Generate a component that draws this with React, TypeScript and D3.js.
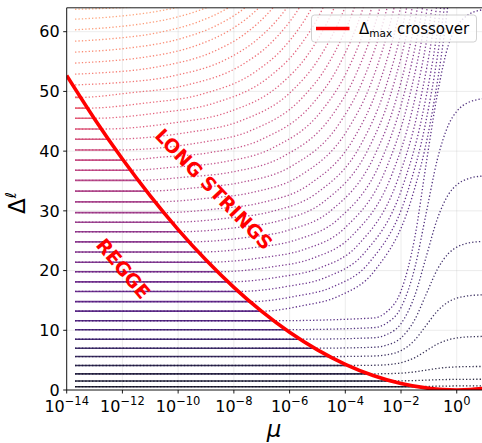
import React, { useEffect, useRef } from "react";
import * as d3 from "d3";

// Regge levels (Delta) read at the left edge, lowest first
const reggeLevels = [
  0.55, 1.5, 2.7, 4.1, 5.6, 7.0, 8.5, 10.1, 11.6, 13.2, 14.8, 16.5, 18.1, 19.8,
  21.4, 23.1, 24.8, 26.5, 28.1, 29.7, 31.5, 33.3, 35.1, 36.8, 38.5, 40.2, 42.0,
  43.7, 45.5, 47.2, 49.0, 50.75, 52.5, 54.3, 56.1, 57.9, 59.8, 61.6, 63.5,
];

// first mu (log10) of the Regge lines
const reggeStartLogMu = -13.7;

// long-string tracks, [log10 mu, Delta], one per level, starting at the crossover
const longStringTracks: [number, number][][] = [
  [[-1.43, 0.55], [-1.1, 0.6], [-0.3, 0.66], [0, 0.68], [0.95, 0.7]],
  [[-2.36, 1.5], [-2, 1.53], [-1.5, 1.58], [-1.1, 1.65], [-0.7, 1.72], [-0.3, 1.76], [0, 1.78], [0.95, 1.8]],
  [[-3.17, 2.7], [-2.5, 2.74], [-2, 2.82], [-1.5, 3.04], [-1.1, 3.33], [-0.7, 3.61], [-0.3, 3.8], [0, 3.87], [0.4, 3.92], [0.95, 3.94]],
  [[-3.91, 4.1], [-3, 4.14], [-2.5, 4.24], [-2, 4.57], [-1.5, 5.42], [-1.1, 6.55], [-0.7, 7.68], [-0.3, 8.42], [0, 8.71], [0.4, 8.89], [0.95, 8.97]],
  [[-4.57, 5.6], [-3, 5.69], [-2.5, 5.9], [-2, 6.59], [-1.5, 8.4], [-1.1, 10.8], [-0.7, 13.2], [-0.3, 14.76], [0, 15.38], [0.4, 15.76], [0.95, 15.94]],
  [[-5.1, 7.0], [-3, 7.15], [-2.5, 7.53], [-2, 8.72], [-1.5, 11.84], [-1.1, 16.0], [-0.7, 20.16], [-0.3, 22.85], [0, 23.92], [0.4, 24.59], [0.95, 24.89]],
  [[-5.63, 8.5], [-3, 8.74], [-2.5, 9.31], [-2, 11.12], [-1.5, 15.89], [-1.1, 22.25], [-0.7, 28.61], [-0.3, 32.72], [0, 34.35], [0.4, 35.37], [0.95, 35.84]],
  [[-6.13, 10.1], [-3, 10.43], [-2.5, 11.24], [-2, 13.81], [-1.5, 20.56], [-1.1, 29.55], [-0.7, 38.54], [-0.3, 44.36], [0, 46.66], [0.4, 48.11], [0.95, 48.77]],
  [[-6.58, 11.6], [-3, 12.05], [-2.5, 13.14], [-2, 16.59], [-1.5, 25.69], [-1.1, 37.8], [-0.7, 49.4], [-0.3, 57.75], [0, 60.85], [0.4, 62.79], [0.95, 63.69]],
  [[-7.01, 13.2], [-5.53, 14.13], [-4.23, 15.73], [-2.93, 20.07], [-1.63, 31.89], [-0.98, 44.01], [-0.33, 64], [-0.07, 75.3]],
  [[-7.42, 14.8], [-5.79, 15.7], [-4.46, 17.25], [-3.12, 21.46], [-1.785, 32.9], [-1.12, 44.64], [-0.45, 64], [-0.18, 74.9]],
  [[-7.84, 16.5], [-6.06, 17.37], [-4.69, 18.87], [-3.32, 22.93], [-1.95, 33.98], [-1.265, 45.31], [-0.58, 64], [-0.31, 74.5]],
  [[-8.21, 18.1], [-6.35, 18.94], [-4.945, 20.39], [-3.54, 24.31], [-2.135, 34.99], [-1.43, 45.94], [-0.73, 64], [-0.45, 74.2]],
  [[-8.59, 19.8], [-6.65, 20.61], [-5.21, 22.0], [-3.77, 25.78], [-2.33, 36.06], [-1.61, 46.61], [-0.89, 64], [-0.6, 73.8]],
  [[-8.93, 21.4], [-6.96, 22.18], [-5.485, 23.52], [-4.01, 27.16], [-2.535, 37.07], [-1.8, 47.24], [-1.06, 64], [-0.765, 73.4]],
  [[-9.27, 23.1], [-7.27, 23.85], [-5.76, 25.14], [-4.25, 28.63], [-2.74, 38.15], [-1.985, 47.91], [-1.23, 64], [-0.93, 73.1]],
  [[-9.61, 24.8], [-7.59, 25.52], [-6.045, 26.75], [-4.5, 30.1], [-2.955, 39.22], [-2.18, 48.57], [-1.41, 64], [-1.1, 72.7]],
  [[-9.93, 26.5], [-7.92, 27.19], [-6.34, 28.37], [-4.76, 31.57], [-3.18, 40.3], [-2.39, 49.24], [-1.6, 64], [-1.28, 72.3]],
  [[-10.23, 28.1], [-8.26, 28.76], [-6.645, 29.89], [-5.03, 32.96], [-3.415, 41.31], [-2.61, 49.87], [-1.8, 64], [-1.48, 72.0]],
  [[-10.52, 29.7], [-8.62, 30.33], [-6.97, 31.41], [-5.32, 34.34], [-3.67, 42.32], [-2.845, 50.5], [-2.02, 64], [-1.69, 71.6]],
  [[-10.83, 31.5], [-8.99, 32.09], [-7.305, 33.12], [-5.62, 35.9], [-3.935, 43.46], [-3.09, 51.21], [-2.25, 64], [-1.91, 71.2]],
  [[-11.13, 33.3], [-9.38, 33.86], [-7.66, 34.83], [-5.94, 37.45], [-4.22, 44.59], [-3.36, 51.92], [-2.5, 64], [-2.16, 70.8]],
  [[-11.43, 35.1], [-9.78, 35.63], [-8.025, 36.54], [-6.27, 39.01], [-4.515, 45.73], [-3.64, 52.63], [-2.76, 64], [-2.41, 70.4]],
  [[-11.71, 36.8], [-10.21, 37.3], [-8.42, 38.15], [-6.63, 40.48], [-4.84, 46.81], [-3.945, 53.3], [-3.05, 64], [-2.69, 70.0]],
  [[-11.97, 38.5], [-10.66, 38.97], [-8.835, 39.77], [-7.01, 41.95], [-5.185, 47.88], [-4.27, 53.97], [-3.36, 64], [-3.0, 69.65]],
  [[-12.23, 40.2], [-9.26, 41.39], [-7.4, 43.42], [-5.54, 48.96], [-4.61, 54.63], [-3.68, 64], [-3.31, 69.3]],
  [[-12.5, 42.0], [-9.705, 43.1], [-7.81, 44.98], [-5.915, 50.09], [-4.97, 55.34], [-4.02, 64], [-3.64, 68.9]],
  [[-12.76, 43.7], [-10.19, 44.71], [-8.26, 46.45], [-6.33, 51.17], [-5.365, 56.01], [-4.4, 64], [-4.01, 68.5]],
  [[-13.02, 45.5], [-10.695, 46.42], [-8.73, 48.0], [-6.765, 52.31], [-5.78, 56.72], [-4.8, 64], [-4.41, 68.1]],
  [[-13.26, 47.2], [-11.2, 48.04], [-9.2, 49.47], [-7.2, 53.38], [-6.2, 57.39], [-5.2, 64], [-4.8, 67.7]],
  [[-13.51, 49.0], [-11.755, 49.75], [-9.72, 51.03], [-7.685, 54.52], [-6.67, 58.1], [-5.65, 64], [-5.24, 67.3]],
  [[-13.7, 51.09], [-12.31, 51.41], [-10.24, 52.54], [-8.17, 55.62], [-7.135, 58.79], [-6.1, 64], [-5.69, 66.9]],
  [[-13.7, 52.89], [-12.915, 53.07], [-10.81, 54.06], [-8.705, 56.73], [-7.65, 59.47], [-6.6, 64], [-6.18, 66.55]],
  [[-13.7, 54.75], [-12.45, 55.1], [-11.38, 55.61], [-9.24, 57.87], [-8.17, 60.18], [-7.1, 64], [-6.67, 66.15]],
  [[-13.7, 56.58], [-11.95, 57.17], [-9.775, 59.01], [-8.69, 60.89], [-7.6, 64], [-7.165, 65.75]],
  [[-13.7, 58.41], [-12.62, 58.73], [-10.41, 60.14], [-9.305, 61.6], [-8.2, 64], [-7.76, 65.35]],
  [[-13.7, 60.32], [-12.37, 60.74], [-11.245, 61.35], [-10.12, 62.35], [-9.0, 64], [-8.55, 64.93]],
  [[-13.7, 62.09], [-12.38, 62.48], [-11.24, 63.06], [-10.1, 64], [-9.64, 64.53]],
  [[-13.7, 63.75], [-13.26, 63.8], [-12.1, 64], [-11.64, 64.11]],
];

// Delta_max crossover curve
const crossoverLogMu = [-14, -13, -12, -11, -10, -9, -8, -7, -6, -5, -4, -3, -2, -1, -0.5, 0, 0.5, 1];
const crossoverDelta = [52.65, 45.39, 38.68, 32.5, 26.86, 21.76, 17.19, 13.16, 9.67, 6.72, 4.3, 2.42, 1.07, 0.27, 0.067, 0, 0.067, 0.27];

const xTickExponents = [-14, -12, -10, -8, -6, -4, -2, 0];
const yTicks = [0, 10, 20, 30, 40, 50, 60];

const FONT = "DejaVu Sans, sans-serif";

export default function App() {
  const svgRef = useRef<SVGSVGElement | null>(null);

  useEffect(() => {
    if (!svgRef.current) return;
    const svg = d3.select(svgRef.current);
    svg.selectAll("*").remove();

    const left = 66.7;
    const top = 7.8;
    const bottom = 390;
    const decade = 27.86;
    const x = d3.scaleLog().domain([1e-14, 1e1]).range([left, left + 15 * decade]);
    const y = d3.scaleLinear().domain([0, 64]).range([bottom, top]);
    const right = x(1e1);

    const color = (k: number) => d3.interpolateMagma(0.05 + (0.75 * k) / (reggeLevels.length - 1));

    svg
      .append("defs")
      .append("clipPath")
      .attr("id", "plot-clip")
      .append("rect")
      .attr("x", left)
      .attr("y", top)
      .attr("width", right - left)
      .attr("height", bottom - top);

    // grid
    const grid = svg.append("g");
    grid
      .selectAll(".gx")
      .data(xTickExponents)
      .enter()
      .append("line")
      .attr("x1", (d) => x(10 ** d))
      .attr("x2", (d) => x(10 ** d))
      .attr("y1", top)
      .attr("y2", bottom)
      .attr("stroke", "#b0b0b0")
      .attr("stroke-opacity", 0.3)
      .attr("stroke-width", 0.8);
    grid
      .selectAll(".gy")
      .data(yTicks)
      .enter()
      .append("line")
      .attr("x1", left)
      .attr("x2", right)
      .attr("y1", (d) => y(d))
      .attr("y2", (d) => y(d))
      .attr("stroke", "#b0b0b0")
      .attr("stroke-opacity", 0.3)
      .attr("stroke-width", 0.8);

    const plot = svg.append("g").attr("clip-path", "url(#plot-clip)");

    const line = d3
      .line<[number, number]>()
      .x((d) => x(10 ** d[0]))
      .y((d) => y(d[1]))
      .curve(d3.curveMonotoneX);

    // solid Regge part
    reggeLevels.forEach((level, k) => {
      const start = longStringTracks[k][0][0];
      if (start <= reggeStartLogMu) return;
      plot
        .append("path")
        .attr("d", line([[reggeStartLogMu, level], [start, level]]))
        .attr("fill", "none")
        .attr("stroke", color(k))
        .attr("stroke-width", 1.6)
        .attr("stroke-opacity", 0.85);
    });

    // dotted full tracks
    reggeLevels.forEach((level, k) => {
      const track = longStringTracks[k];
      const pts: [number, number][] =
        track[0][0] > reggeStartLogMu ? [[reggeStartLogMu, level], ...track] : track;
      plot
        .append("path")
        .attr("d", line(pts))
        .attr("fill", "none")
        .attr("stroke", color(k))
        .attr("stroke-width", 1.3)
        .attr("stroke-dasharray", "1.3 2.1")
        .attr("stroke-opacity", 0.85);
    });

    // crossover curve
    const crossover = crossoverLogMu.map((m, i) => [m, crossoverDelta[i]] as [number, number]);
    plot
      .append("path")
      .attr("d", line(crossover))
      .attr("fill", "none")
      .attr("stroke", "#ff0000")
      .attr("stroke-width", 3.6);

    // region labels
    const label = (text: string, cx: number, cy: number, angle: number) =>
      svg
        .append("text")
        .attr("transform", `translate(${cx},${cy}) rotate(${angle})`)
        .attr("text-anchor", "middle")
        .attr("dominant-baseline", "central")
        .attr("font-family", FONT)
        .attr("font-weight", "bold")
        .attr("font-size", 19)
        .attr("fill", "#ff0000")
        .text(text);
    label("LONG STRINGS", 214, 189, 46);
    label("REGGE", 123.5, 268.5, 50);

    // spines
    const axes = svg.append("g").attr("stroke", "#000").attr("stroke-width", 0.9);
    axes.append("line").attr("x1", left).attr("x2", left).attr("y1", top).attr("y2", bottom);
    axes.append("line").attr("x1", left).attr("x2", right).attr("y1", bottom).attr("y2", bottom);
    axes.append("line").attr("x1", left).attr("x2", right).attr("y1", top).attr("y2", top);
    axes.append("line").attr("x1", right).attr("x2", right).attr("y1", top).attr("y2", bottom);

    // x ticks
    xTickExponents.forEach((e) => {
      const px = x(10 ** e);
      axes.append("line").attr("x1", px).attr("x2", px).attr("y1", bottom).attr("y2", bottom + 3.5);
      const t = svg
        .append("text")
        .attr("x", px)
        .attr("y", 412)
        .attr("text-anchor", "middle")
        .attr("font-family", FONT)
        .attr("font-size", 16)
        .attr("fill", "#000");
      t.append("tspan").text("10");
      t.append("tspan")
        .attr("dy", -7)
        .attr("font-size", 11.5)
        .text(e < 0 ? `\u2212${-e}` : `${e}`);
    });

    // y ticks
    yTicks.forEach((v) => {
      const py = y(v);
      axes.append("line").attr("x1", left - 3.5).attr("x2", left).attr("y1", py).attr("y2", py);
      svg
        .append("text")
        .attr("x", left - 7)
        .attr("y", py)
        .attr("dy", "0.36em")
        .attr("text-anchor", "end")
        .attr("font-family", FONT)
        .attr("font-size", 16)
        .attr("fill", "#000")
        .text(v);
    });

    // axis labels
    svg
      .append("text")
      .attr("x", 274)
      .attr("y", 437)
      .attr("text-anchor", "middle")
      .attr("font-family", FONT)
      .attr("font-style", "italic")
      .attr("font-size", 23)
      .text("\u03bc");
    const yl = svg
      .append("text")
      .attr("transform", "translate(25,203) rotate(-90)")
      .attr("text-anchor", "middle")
      .attr("font-family", FONT)
      .attr("font-size", 23);
    yl.append("tspan").text("\u0394");
    yl.append("tspan").attr("dy", -9).attr("font-size", 15).attr("font-style", "italic").text("\u2113");

    // legend
    const lg = svg.append("g");
    lg.append("rect")
      .attr("x", 311.5)
      .attr("y", 15)
      .attr("width", 165)
      .attr("height", 27)
      .attr("rx", 3)
      .attr("fill", "#fff")
      .attr("fill-opacity", 0.8)
      .attr("stroke", "#cccccc")
      .attr("stroke-width", 0.9);
    lg.append("line")
      .attr("x1", 316)
      .attr("x2", 349.5)
      .attr("y1", 28.5)
      .attr("y2", 28.5)
      .attr("stroke", "#ff0000")
      .attr("stroke-width", 3.6);
    const lt = lg
      .append("text")
      .attr("x", 359)
      .attr("y", 33.8)
      .attr("font-family", FONT)
      .attr("font-size", 15)
      .attr("fill", "#000");
    lt.append("tspan").text("\u0394");
    lt.append("tspan").attr("dy", 3).attr("font-size", 10.5).text("max");
    lt.append("tspan").attr("dy", -3).text(" crossover");
  }, []);

  return (
    <svg
      ref={svgRef}
      width={482}
      height={443}
      style={{ position: "absolute", left: 0, top: 0, background: "#fff" }}
    />
  );
}
